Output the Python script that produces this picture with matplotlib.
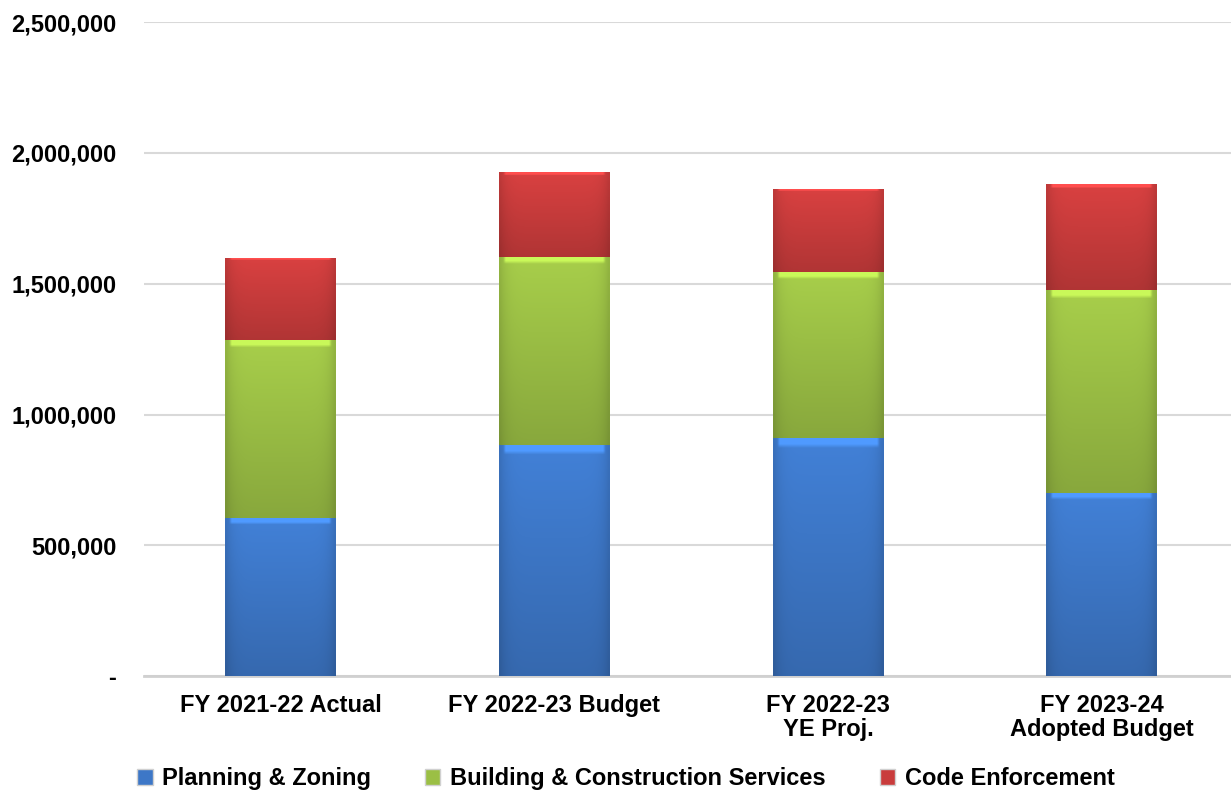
import matplotlib.pyplot as plt
import numpy as np
from matplotlib.patches import Patch
from matplotlib.colors import to_rgb
from matplotlib.ticker import FuncFormatter

plt.rcParams['font.family'] = ['Liberation Sans', 'DejaVu Sans']
plt.rcParams['font.weight'] = 'bold'

categories = ['FY 2021-22 Actual', 'FY 2022-23 Budget', 'FY 2022-23\nYE Proj.', 'FY 2023-24\nAdopted Budget']
planning = [604000, 883000, 910000, 700000]
building = [680000, 719000, 634000, 776000]
code_enf = [314000, 325000, 318000, 405000]

series = ['Planning & Zoning', 'Building & Construction Services', 'Code Enforcement']
colors = ['#3d77c7', '#9bbf45', '#c93c3c']

fig = plt.figure(figsize=(12.31, 7.93), dpi=100)
ax = fig.add_axes([0.117, 0.1475, 0.889, 0.8245])

x = np.arange(len(categories))
bottoms = np.zeros(len(categories))
for vals, col in zip([planning, building, code_enf], colors):
    bars = ax.bar(x, vals, bottom=bottoms, width=0.405, color=col, zorder=3,
                  edgecolor='none')
    base = np.array(to_rgb(col))
    # shading: lighter at top, darker at bottom and near the sides
    ny, nx = 60, 40
    vy = np.linspace(1.08, 0.88, ny)[:, None]
    hx = 1 - 0.12 * (np.abs(np.linspace(-1, 1, nx)) ** 8)[None, :]
    shade = np.clip(vy * hx, 0, 1.3)
    img = np.clip(base[None, None, :] * shade[:, :, None], 0, 1)
    img[:2, 2:-2] = np.clip(base * 1.3, 0, 1)
    for b in bars:
        x0, y0 = b.get_x(), b.get_y()
        im = ax.imshow(img, extent=(x0, x0 + b.get_width(), y0, y0 + b.get_height()),
                       aspect='auto', zorder=4, interpolation='bilinear')
        im.set_clip_path(b)
    bottoms += np.array(vals)

ax.set_xlim(-0.5, len(categories) - 0.5)
ax.set_ylim(0, 2500000)
ax.set_yticks(np.arange(0, 2500001, 500000))
ax.yaxis.set_major_formatter(FuncFormatter(lambda v, p: '-' if v == 0 else f'{int(v):,}'))
ax.set_xticks(x)
ax.set_xticklabels(categories, fontsize=17, fontweight='bold', linespacing=1.05)
ax.tick_params(axis='y', labelsize=17, length=0, pad=20)
ax.tick_params(axis='x', length=0, pad=13)
for lab in ax.get_yticklabels():
    lab.set_fontweight('bold')

ax.grid(axis='y', color='#d9d9d9', linewidth=1.5, zorder=0)
for s in ['top', 'right', 'left']:
    ax.spines[s].set_visible(False)
ax.spines['bottom'].set_color('#d0d0d0')
ax.spines['bottom'].set_linewidth(2)

handles = [Patch(facecolor=c, edgecolor='#d0d0d0', label=s) for c, s in zip(colors, series)]
fig.legend(handles=handles, loc='center', bbox_to_anchor=(0.5085, 0.018), ncol=3,
           frameon=False, handlelength=0.65, handleheight=0.65,
           handletextpad=0.42, columnspacing=2.27, prop={'weight': 'bold', 'size': 17})

fig.savefig('out.png', dpi=100)
